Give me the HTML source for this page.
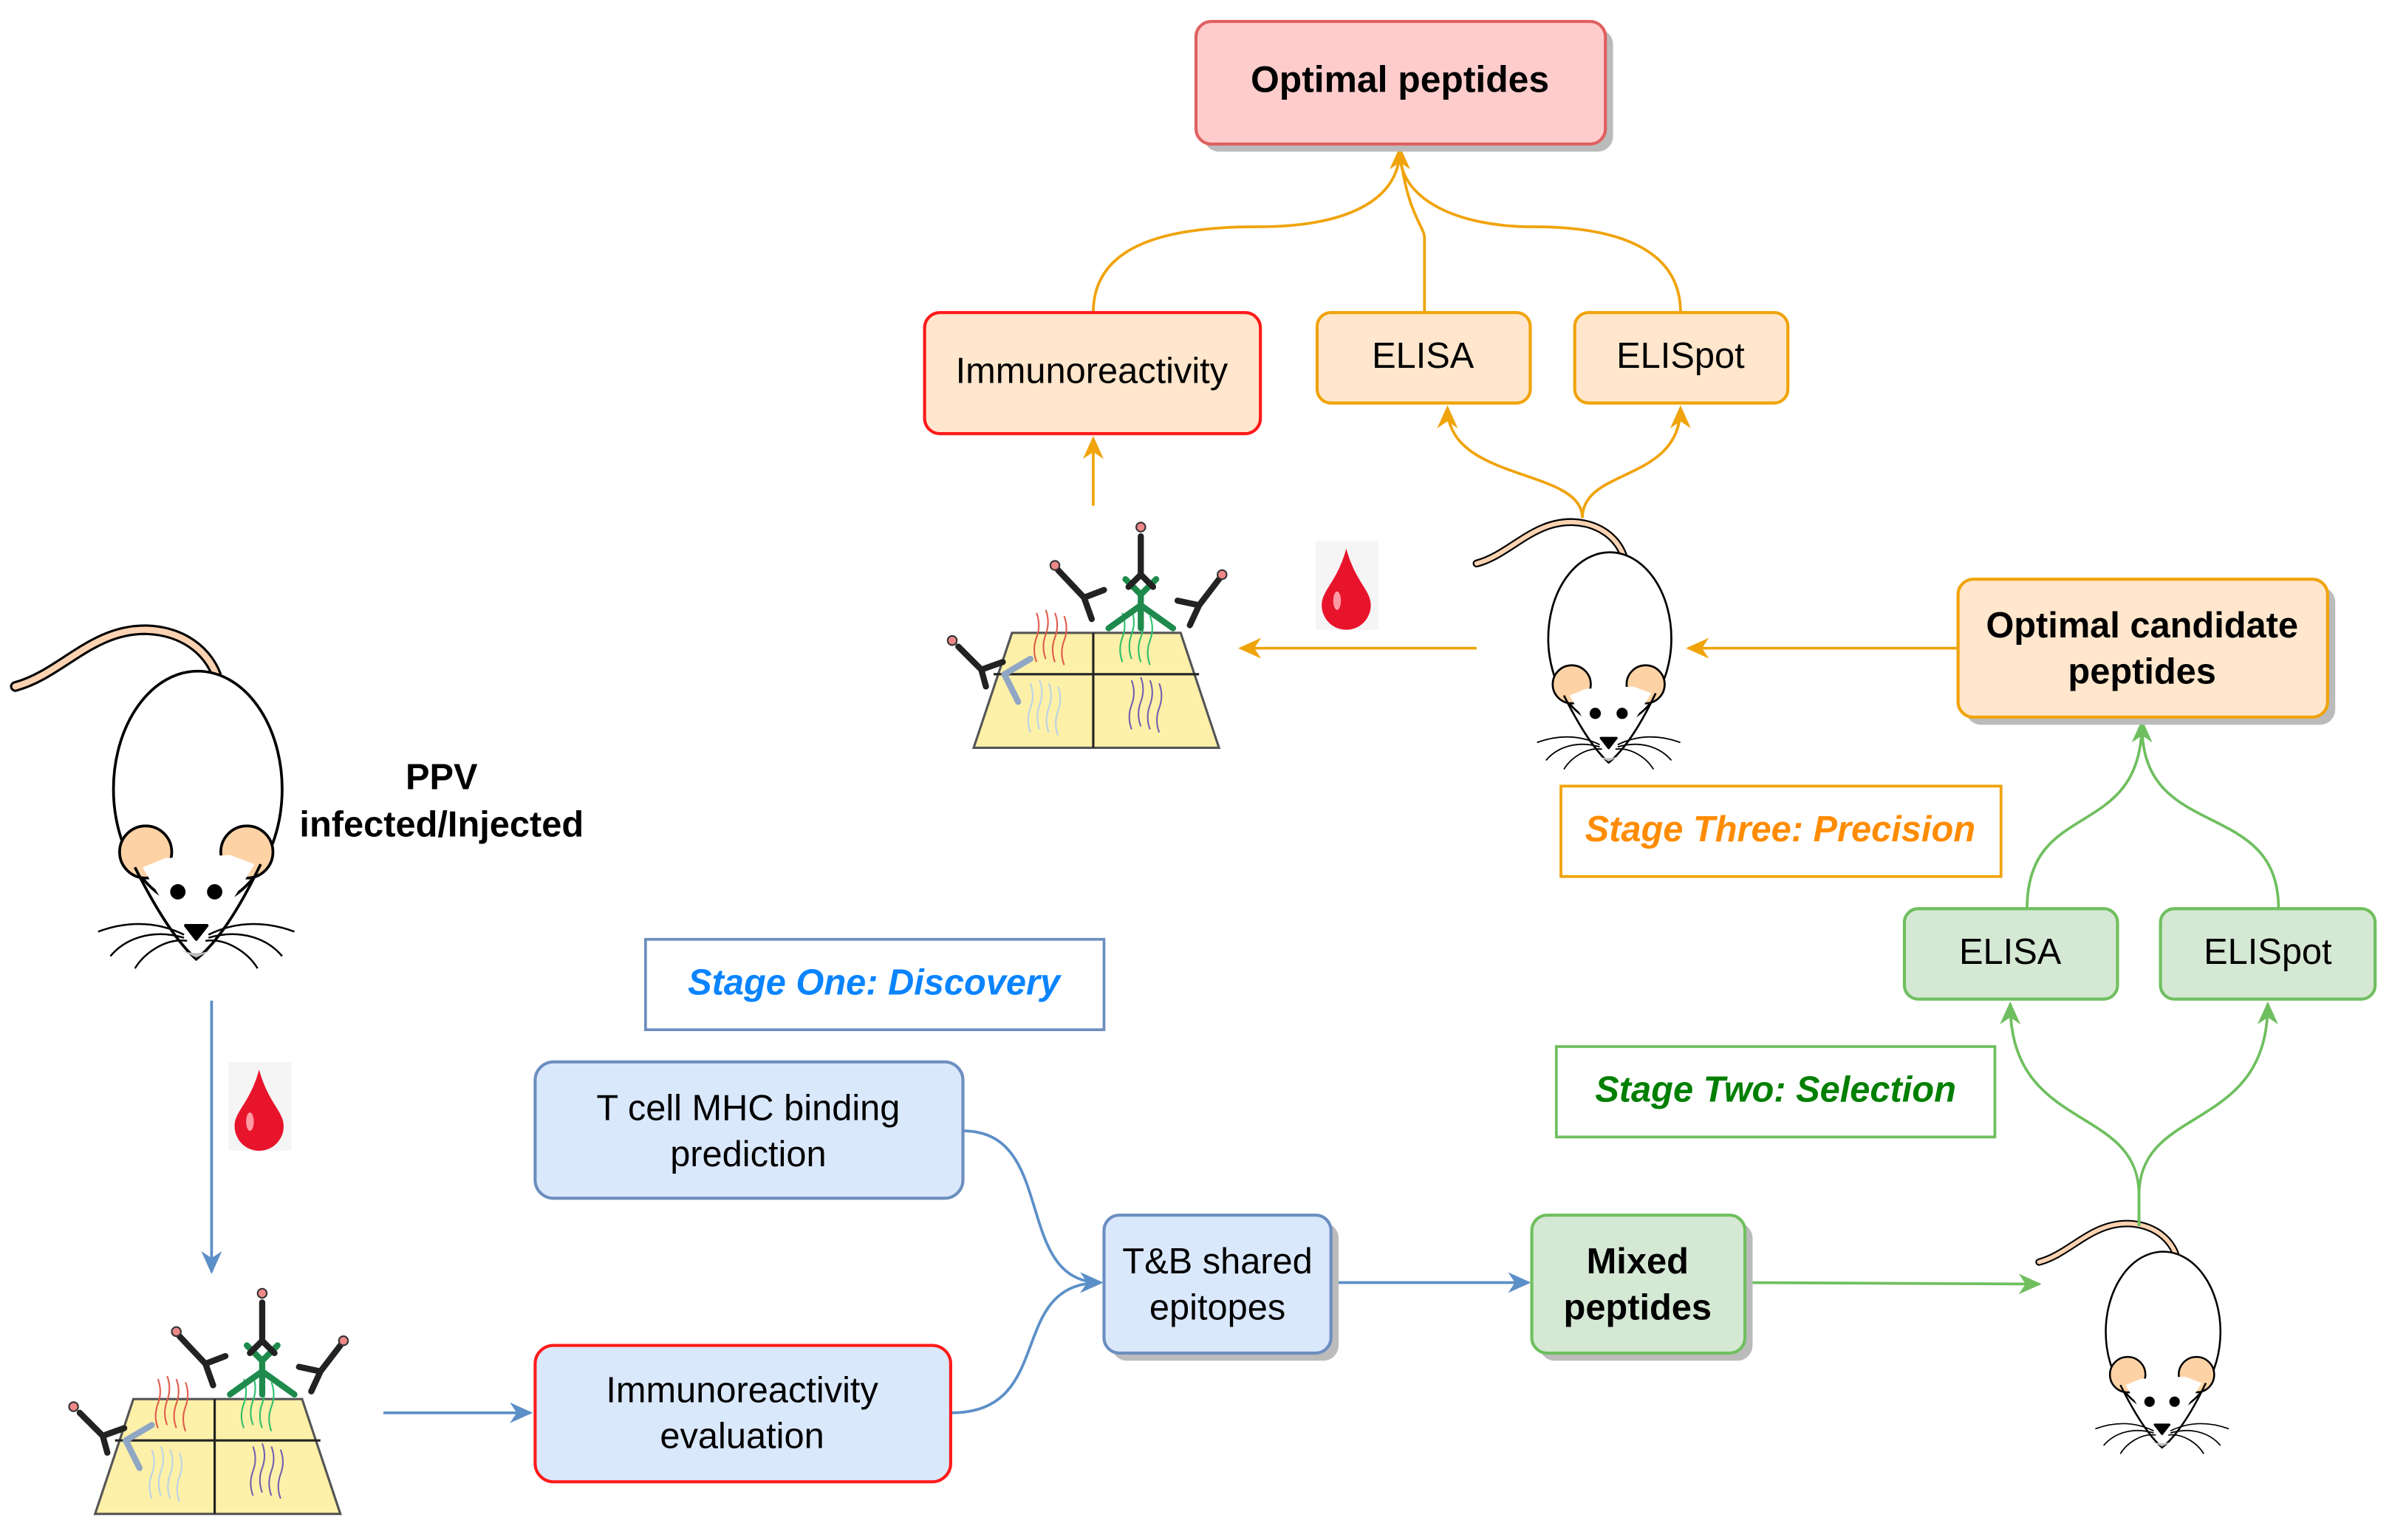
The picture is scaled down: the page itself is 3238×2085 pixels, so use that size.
<!DOCTYPE html>
<html><head><meta charset="utf-8"><style>
html,body{margin:0;padding:0;background:#fff;}
svg{display:block}
text{font-family:"Liberation Sans",sans-serif;}
</style></head><body>
<svg width="3238" height="2085" viewBox="0 0 1560 1005" preserveAspectRatio="none" xmlns="http://www.w3.org/2000/svg">
<defs>
<marker id="ao" viewBox="0 0 10 10" refX="9" refY="5" markerWidth="15" markerHeight="15" orient="auto-start-reverse" markerUnits="userSpaceOnUse"><path d="M0,0.5 L10,5 L0,9.5 L3,5 z" fill="#f0a30a"/></marker>
<marker id="ag" viewBox="0 0 10 10" refX="9" refY="5" markerWidth="15" markerHeight="15" orient="auto-start-reverse" markerUnits="userSpaceOnUse"><path d="M0,0.5 L10,5 L0,9.5 L3,5 z" fill="#6fbf5f"/></marker>
<marker id="ab" viewBox="0 0 10 10" refX="9" refY="5" markerWidth="15" markerHeight="15" orient="auto-start-reverse" markerUnits="userSpaceOnUse"><path d="M0,0.5 L10,5 L0,9.5 L3,5 z" fill="#5b8fc7"/></marker>
<g id="mouse">
 <path d="M10,448 C40,440 60,410 96,411 C120,412 135,425 141,440" fill="none" stroke="#000" stroke-width="7" stroke-linecap="round"/>
 <path d="M10,448 C40,440 60,410 96,411 C120,412 135,425 141,440" fill="none" stroke="#fbd3b2" stroke-width="4" stroke-linecap="round"/>
 <ellipse cx="129" cy="515" rx="55" ry="77" fill="#fff" stroke="#000" stroke-width="1.8"/>
 <circle cx="95" cy="556" r="17" fill="#fdd3a6" stroke="#000" stroke-width="1.8"/>
 <circle cx="161" cy="556" r="17" fill="#fdd3a6" stroke="#000" stroke-width="1.8"/>
 <path d="M93,566 L128,626 L166,564 L150,558 L108,560 Z" fill="#fff"/>
 <path d="M88,566 Q110,610 128,626 Q148,610 170,564" fill="none" stroke="#000" stroke-width="1.8"/>
 <path d="M114,618 Q128,626 142,618 L128,625 Z" fill="#bbb"/>
 <circle cx="116" cy="582" r="5" fill="#000"/><circle cx="140" cy="582" r="5" fill="#000"/>
 <path d="M121,604 L135,604 L128,613 Z" fill="#000" stroke="#000" stroke-width="2" stroke-linejoin="round"/>
 <g fill="none" stroke="#000" stroke-width="1.2">
  <path d="M120,610 C100,600 80,602 64,608"/><path d="M120,612 C100,606 82,612 72,624"/><path d="M122,614 C108,612 94,622 88,632"/>
  <path d="M136,610 C156,600 176,602 192,608"/><path d="M136,612 C156,606 174,612 184,624"/><path d="M134,614 C148,612 162,622 168,632"/>
 </g>
</g>
<g id="plate">
 <path d="M660,413 L770,413 L795,488 L635,488 Z" fill="#fdf0a8" stroke="#555" stroke-width="1.5"/>
 <line x1="713" y1="413" x2="713" y2="488" stroke="#222" stroke-width="1.5"/>
 <line x1="648" y1="440" x2="782" y2="440" stroke="#222" stroke-width="1.5"/>
 <g fill="none" stroke-width="1">
  <path d="M676,400 q3,8 0,16 q-3,8 0,16 M682,398 q3,8 0,16 q-3,8 0,16 M688,400 q3,8 0,16 q-3,8 0,16 M694,402 q3,8 0,16 q-3,8 0,16" stroke="#e05a4a"/>
  <path d="M732,400 q3,8 0,16 q-3,8 0,16 M738,398 q3,8 0,16 q-3,8 0,16 M744,400 q3,8 0,16 q-3,8 0,16 M750,402 q3,8 0,16 q-3,8 0,16" stroke="#2cbf6a"/>
  <path d="M672,446 q3,8 0,16 q-3,8 0,16 M678,444 q3,8 0,16 q-3,8 0,16 M684,446 q3,8 0,16 q-3,8 0,16 M690,448 q3,8 0,16 q-3,8 0,16" stroke="#b9d3ea"/>
  <path d="M738,444 q3,8 0,16 q-3,8 0,16 M744,442 q3,8 0,16 q-3,8 0,16 M750,444 q3,8 0,16 q-3,8 0,16 M756,446 q3,8 0,16 q-3,8 0,16" stroke="#7060b0"/>
 </g>
 <g fill="none" stroke-linecap="round">
  <path d="M744,388 L744,410 M744,388 L734,378 M744,388 L754,378 M723,410 L744,395 M765,410 L744,395" stroke="#1e8a4c" stroke-width="4"/>
  <path d="M744,375 L744,350 M744,375 L736,383 M744,375 L752,383" stroke="#222" stroke-width="4"/>
  <path d="M707,390 L690,372 M707,390 L720,385 M707,390 L712,404" stroke="#222" stroke-width="4"/>
  <path d="M782,395 L795,378 M782,395 L768,392 M782,395 L776,408" stroke="#222" stroke-width="4"/>
  <path d="M640,437 L625,422 M640,437 L654,432 M640,437 L643,448" stroke="#222" stroke-width="4"/>
  <path d="M655,440 L672,430 M655,440 L664,458" stroke="#8fa6c4" stroke-width="4"/>
 </g>
 <circle cx="744" cy="344" r="3" fill="#e88" stroke="#333"/><circle cx="688" cy="369" r="3" fill="#e88" stroke="#333"/>
 <circle cx="797" cy="375" r="3" fill="#e88" stroke="#333"/><circle cx="621" cy="418" r="3" fill="#e88" stroke="#333"/>
</g>
<g id="drop">
 <rect x="858" y="353" width="41" height="58" fill="#f5f5f5"/>
 <path d="M878,358 C884,380 894,385 894,395 A16,16 0 0 1 862,395 C862,385 872,380 878,358 Z" fill="#e8142c"/>
 <ellipse cx="872" cy="392" rx="2.5" ry="6" fill="#ff9aa5"/>
</g>
</defs>

<use href="#mouse"/>
<use href="#mouse" transform="translate(955.7,40.7) scale(0.73)"/>
<use href="#mouse" transform="translate(1323,519) scale(0.68)"/>
<use href="#plate"/>
<use href="#plate" transform="translate(-573,500)"/>
<use href="#drop"/>
<use href="#drop" transform="translate(-709,340)"/>

<g fill="none" stroke="#f0a30a" stroke-width="1.8">
 <path d="M713,204 C713,160 760,148 820,148 C880,148 913,130 913,97" marker-end="url(#ao)"/>
 <path d="M929,204 L929,155 C929,148 918,140 913,100"/>
 <path d="M1096,204 C1096,160 1050,148 1000,148 C950,148 913,130 913,100"/>
 <path d="M713,330 L713,286" marker-end="url(#ao)"/>
 <path d="M1032,338 C1032,305 944,315 944,266" marker-end="url(#ao)"/>
 <path d="M1032,338 C1032,305 1096,315 1096,266" marker-end="url(#ao)"/>
 <path d="M963,423 L809,423" marker-end="url(#ao)"/>
 <path d="M1277,423 L1101,423" marker-end="url(#ao)"/>
</g>
<g fill="none" stroke="#6fbf5f" stroke-width="1.8">
 <path d="M1395,800 L1395,780 C1395,720 1311,740 1311,655" marker-end="url(#ag)"/>
 <path d="M1395,800 L1395,780 C1395,720 1479,740 1479,655" marker-end="url(#ag)"/>
 <path d="M1322,593 C1322,520 1397,550 1397,471" marker-end="url(#ag)"/>
 <path d="M1486,593 C1486,520 1397,550 1397,474"/>
 <path d="M1138,837 L1330,838" marker-end="url(#ag)"/>
</g>
<g fill="none" stroke="#5b8fc7" stroke-width="1.8">
 <path d="M138,653 L138,830" marker-end="url(#ab)"/>
 <path d="M250,922 L346,922" marker-end="url(#ab)"/>
 <path d="M628,738 C690,738 660,837 718,837" marker-end="url(#ab)"/>
 <path d="M620,922 C690,922 655,837 718,837" marker-end="url(#ab)"/>
 <path d="M868,837 L997,837" marker-end="url(#ab)"/>
</g>

<g font-size="23.5">
 <rect x="785" y="19" width="267" height="80" rx="10" fill="#bbb"/>
 <rect x="780" y="14" width="267" height="80" rx="10" fill="#ffcccc" stroke="#e06060" stroke-width="2"/>
 <text x="913" y="60" text-anchor="middle" font-weight="bold" font-size="24">Optimal peptides</text>

 <rect x="603" y="204" width="219" height="79" rx="10" fill="#ffe6cc" stroke="#ff1a1a" stroke-width="2"/>
 <text x="712" y="250" text-anchor="middle">Immunoreactivity</text>
 <rect x="859" y="204" width="139" height="59" rx="9" fill="#ffe6cc" stroke="#f0a30a" stroke-width="2"/>
 <text x="928" y="240" text-anchor="middle">ELISA</text>
 <rect x="1027" y="204" width="139" height="59" rx="9" fill="#ffe6cc" stroke="#f0a30a" stroke-width="2"/>
 <text x="1096" y="240" text-anchor="middle">ELISpot</text>

 <rect x="1282" y="383" width="241" height="90" rx="10" fill="#bbb"/>
 <rect x="1277" y="378" width="241" height="90" rx="10" fill="#ffe6cc" stroke="#f0a30a" stroke-width="2"/>
 <text x="1397" y="416" text-anchor="middle" font-weight="bold">Optimal candidate</text>
 <text x="1397" y="446" text-anchor="middle" font-weight="bold">peptides</text>

 <text x="288" y="515" text-anchor="middle" font-weight="bold">PPV</text>
 <text x="288" y="546" text-anchor="middle" font-weight="bold">infected/Injected</text>

 <rect x="1018" y="513" width="287" height="59" fill="#fff" stroke="#f0a30a" stroke-width="1.8"/>
 <text x="1161" y="549" text-anchor="middle" font-weight="bold" font-style="italic" fill="#ff8c00">Stage Three: Precision</text>
 <rect x="421" y="613" width="299" height="59" fill="#fff" stroke="#6c8ebf" stroke-width="1.8"/>
 <text x="570" y="649" text-anchor="middle" font-weight="bold" font-style="italic" fill="#0a84ff">Stage One: Discovery</text>
 <rect x="1015" y="683" width="286" height="59" fill="#fff" stroke="#6fbf5f" stroke-width="1.8"/>
 <text x="1158" y="719" text-anchor="middle" font-weight="bold" font-style="italic" fill="#007f00">Stage Two: Selection</text>

 <rect x="1242" y="593" width="139" height="59" rx="9" fill="#d5e8d4" stroke="#6fbf5f" stroke-width="2"/>
 <text x="1311" y="629" text-anchor="middle">ELISA</text>
 <rect x="1409" y="593" width="140" height="59" rx="9" fill="#d5e8d4" stroke="#6fbf5f" stroke-width="2"/>
 <text x="1479" y="629" text-anchor="middle">ELISpot</text>

 <rect x="349" y="693" width="279" height="89" rx="12" fill="#dae8fc" stroke="#6c8ebf" stroke-width="2"/>
 <text x="488" y="731" text-anchor="middle">T cell MHC binding</text>
 <text x="488" y="761" text-anchor="middle">prediction</text>
 <rect x="349" y="878" width="271" height="89" rx="12" fill="#dae8fc" stroke="#ff1a1a" stroke-width="2"/>
 <text x="484" y="915" text-anchor="middle">Immunoreactivity</text>
 <text x="484" y="945" text-anchor="middle">evaluation</text>

 <rect x="725" y="798" width="148" height="90" rx="10" fill="#bbb"/>
 <rect x="720" y="793" width="148" height="90" rx="10" fill="#dae8fc" stroke="#6c8ebf" stroke-width="2"/>
 <text x="794" y="831" text-anchor="middle">T&amp;B shared</text>
 <text x="794" y="861" text-anchor="middle">epitopes</text>
 <rect x="1004" y="798" width="139" height="90" rx="10" fill="#bbb"/>
 <rect x="999" y="793" width="139" height="90" rx="10" fill="#d5e8d4" stroke="#6fbf5f" stroke-width="2"/>
 <text x="1068" y="831" text-anchor="middle" font-weight="bold">Mixed</text>
 <text x="1068" y="861" text-anchor="middle" font-weight="bold">peptides</text>
</g>
</svg>
</body></html>
